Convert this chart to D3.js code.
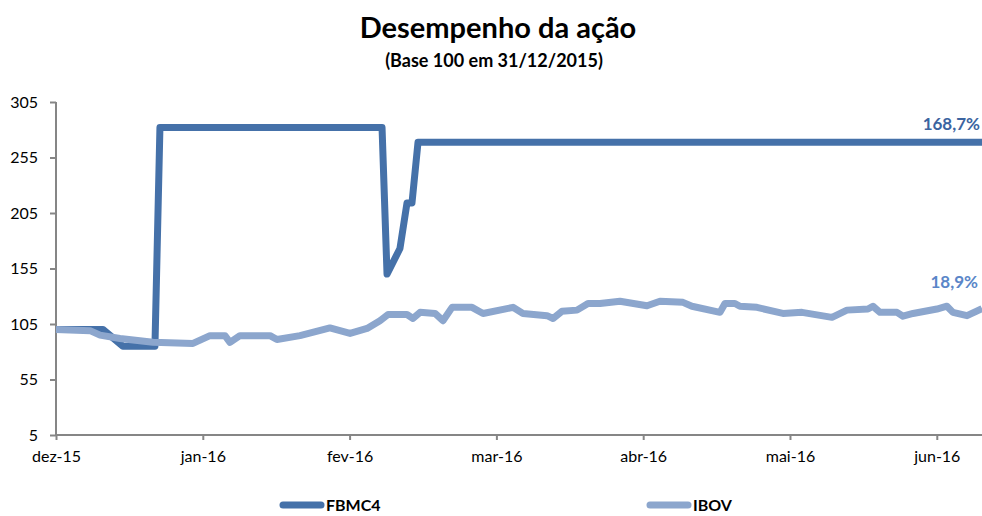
<!DOCTYPE html>
<html>
<head>
<meta charset="utf-8">
<script src="https://cdn.jsdelivr.net/npm/d3@7"></script>
<style>
  body { margin: 0; background: #fff; }
  text { font-family: Lato, "Open Sans", sans-serif; }
</style>
</head>
<body>
<div id="chart"></div>
<script>
// data (x = months since 31/12/2015)
var monthLabels = ["dez-15", "jan-16", "fev-16", "mar-16", "abr-16", "mai-16", "jun-16"];
var yTicks = [5, 55, 105, 155, 205, 255, 305];

var fbmcT = [0, 0.32, 0.456, 0.674, 0.708, 2.221, 2.255, 2.343, 2.391, 2.425, 2.466, 6.308];
var fbmcV = [100, 100, 85, 85, 282, 282, 150, 173, 214, 214, 268.7, 268.7];

var ibovT = [0, 0.232, 0.300, 0.436, 0.661, 0.933, 1.049, 1.151, 1.185, 1.253, 1.458, 1.505, 1.662,
  1.866, 2.003, 2.119, 2.207, 2.262, 2.391, 2.432, 2.480, 2.582, 2.636, 2.698, 2.834, 2.909, 3.113,
  3.181, 3.345, 3.386, 3.447, 3.549, 3.624, 3.706, 3.842, 4.026, 4.114, 4.271, 4.332, 4.523, 4.557,
  4.625, 4.659, 4.775, 4.952, 5.082, 5.286, 5.388, 5.531, 5.565, 5.613, 5.729, 5.770, 5.838, 6.001,
  6.069, 6.110, 6.206, 6.308];
var ibovV = [100, 99, 95, 92, 88.5, 87.5, 94.5, 94.5, 88.5, 94.5, 94.5, 91, 94.5,
  101.5, 96.5, 101, 108, 113.5, 113.5, 110, 115.5, 114.5, 108, 120, 120, 114.5, 120,
  114.5, 112.5, 110, 116.5, 117.5, 123.5, 123.5, 125.5, 121.5, 125.5, 124.5, 121, 115.5, 123.5,
  123.5, 121, 120, 114.5, 115.5, 111, 117.5, 118.5, 121, 115.5, 115.5, 112, 114.5, 118.5,
  121, 115.5, 112.5, 118.9];

var seriesNames = ["FBMC4", "IBOV"];
var endLabels = ["168,7%", "18,9%"];

var svgWidth = 982;
var svgHeight = 516;

var svg = d3.select("#chart")
  .append("svg")
  .attr("width", svgWidth)
  .attr("height", svgHeight);

var xScale = d3.scaleLinear()
  .domain([0, 6.308])
  .range([56, 982]);

var yScale = d3.scaleLinear()
  .domain([5, 305])
  .range([435, 102]);

// title
svg.append("text")
  .attr("x", 498).attr("y", 38)
  .attr("text-anchor", "middle")
  .style("font-size", "29px").style("font-weight", "bold")
  .text("Desempenho da ação");

svg.append("text")
  .attr("x", 494).attr("y", 67)
  .attr("text-anchor", "middle")
  .style("font-size", "18px").style("font-weight", "bold")
  .text("(Base 100 em 31/12/2015)");

// axes
var leftAxis = d3.axisLeft(yScale).tickValues(yTicks).tickSize(6).tickPadding(12);
var bottomAxis = d3.axisBottom(xScale)
  .tickValues(d3.range(monthLabels.length))
  .tickFormat(function(d) { return monthLabels[d]; })
  .tickSize(5).tickPadding(11);

var gy = svg.append("g")
  .attr("transform", "translate(56,0)")
  .call(leftAxis);

var gx = svg.append("g")
  .attr("transform", "translate(0,435)")
  .call(bottomAxis);

[gx, gy].forEach(function(g) {
  g.select(".domain").attr("stroke", "#868686").attr("stroke-width", 2);
  g.selectAll(".tick line").attr("stroke", "#868686").attr("stroke-width", 2);
  g.selectAll(".tick text")
    .attr("fill", "#000")
    .style("font-size", "16px")
    .style("font-family", "Lato, sans-serif");
});
gy.select(".domain").attr("d", "M0,102V435");
gx.select(".domain").attr("d", "M56,0H982");

// lines
var line = d3.line()
  .x(function(d) { return xScale(d[0]); })
  .y(function(d) { return yScale(d[1]); });

var fbmcData = d3.zip(fbmcT, fbmcV);
var ibovData = d3.zip(ibovT, ibovV);
var colors = ["#4571a9", "#8ca6cd"];

svg.append("path")
  .datum(fbmcData)
  .attr("d", line)
  .attr("fill", "none")
  .attr("stroke", colors[0])
  .attr("stroke-width", 7)
  .attr("stroke-linejoin", "round");

svg.append("path")
  .datum(ibovData)
  .attr("d", line)
  .attr("fill", "none")
  .attr("stroke", colors[1])
  .attr("stroke-width", 7)
  .attr("stroke-linejoin", "round");

// end labels
svg.append("text")
  .attr("x", 980).attr("y", 130)
  .attr("text-anchor", "end")
  .attr("fill", "#3b64a0")
  .style("font-size", "17px").style("font-weight", "bold")
  .text(endLabels[0]);

svg.append("text")
  .attr("x", 978).attr("y", 288)
  .attr("text-anchor", "end")
  .attr("fill", "#5a86c8")
  .style("font-size", "17px").style("font-weight", "bold")
  .text(endLabels[1]);

// legend
var legendX = [283, 650];
seriesNames.forEach(function(name, i) {
  svg.append("line")
    .attr("x1", legendX[i]).attr("x2", legendX[i] + 38)
    .attr("y1", 505).attr("y2", 505)
    .attr("stroke", colors[i])
    .attr("stroke-width", 7)
    .attr("stroke-linecap", "round");
  svg.append("text")
    .attr("x", legendX[i] + 43).attr("y", 511)
    .style("font-size", "16px").style("font-weight", "bold")
    .text(name);
});
</script>
</body>
</html>
